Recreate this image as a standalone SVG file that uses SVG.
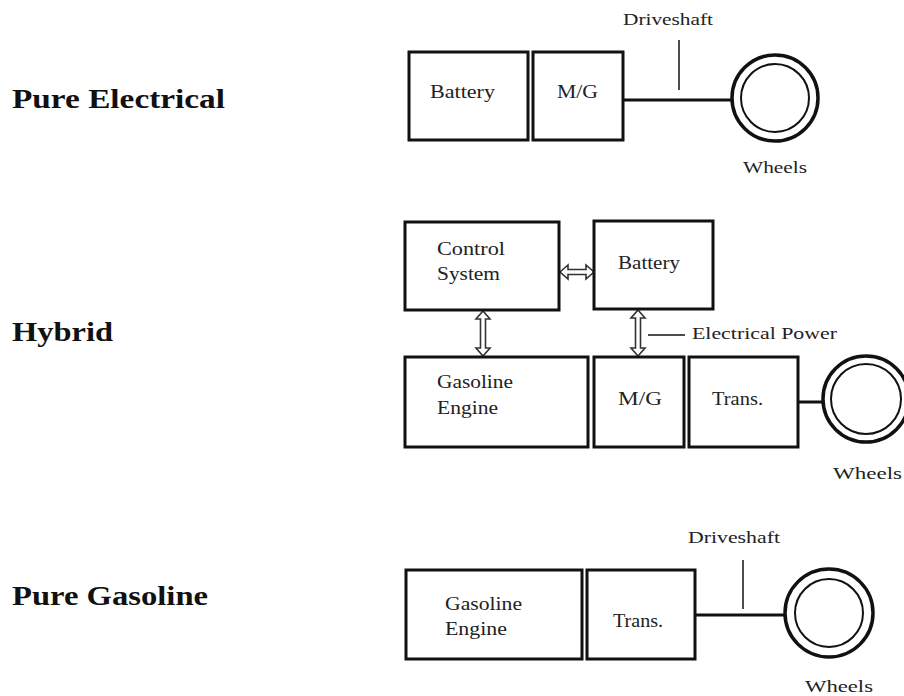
<svg xmlns="http://www.w3.org/2000/svg" width="904" height="696" viewBox="0 0 904 696">
<style>
.box{fill:#fff;stroke:#111;stroke-width:3}
.t{font-family:"Liberation Serif","Times New Roman",serif;font-size:19px;fill:#222}
.s{font-family:"Liberation Serif","Times New Roman",serif;font-size:17px;fill:#222}
.h{font-family:"Liberation Serif","Times New Roman",serif;font-size:28px;font-weight:bold;fill:#111}
.shaft{stroke:#111;stroke-width:3;fill:none}
.thin{stroke:#111;stroke-width:1.5;fill:none}
.wo{fill:#fff;stroke:#111;stroke-width:3.5}
.wi{fill:#fff;stroke:#111;stroke-width:2}
.arr{fill:#fff;stroke:#333;stroke-width:1.6;stroke-linejoin:miter}
</style>
<rect width="904" height="696" fill="#fff"/>

<g id="labels">
<text class="h" x="12" y="108" textLength="213" lengthAdjust="spacingAndGlyphs">Pure Electrical</text>
<text class="h" x="12" y="341" textLength="101" lengthAdjust="spacingAndGlyphs">Hybrid</text>
<text class="h" x="12" y="605" textLength="196" lengthAdjust="spacingAndGlyphs">Pure Gasoline</text>
</g>

<g id="connectors">
<!-- Pure Electrical -->
<line class="shaft" x1="623" y1="100" x2="733" y2="100"/>
<line class="thin" x1="679" y1="40" x2="679" y2="90"/>
<!-- Hybrid -->
<line class="shaft" x1="798" y1="402" x2="824" y2="402"/>
<polygon class="arr" points="560,272 568,265 568,269.5 586,269.5 586,265 594,272 586,279 586,274.5 568,274.5 568,279"/>
<polygon class="arr" points="483,311 490,319 485.5,319 485.5,348 490,348 483,356 476,348 480.5,348 480.5,319 476,319"/>
<polygon class="arr" points="638,310 645,318 640.5,318 640.5,348 645,348 638,356 631,348 635.5,348 635.5,318 631,318"/>
<line class="thin" x1="648" y1="335" x2="685" y2="335"/>
<!-- Pure Gasoline -->
<line class="shaft" x1="695" y1="615" x2="785" y2="615"/>
<line class="thin" x1="743" y1="560" x2="743" y2="609"/>
</g>

<g id="pe-battery"><rect class="box" x="409" y="52" width="119" height="88"/><text class="t" x="430" y="98" textLength="65" lengthAdjust="spacingAndGlyphs">Battery</text></g>
<g id="pe-mg"><rect class="box" x="533" y="52" width="90" height="88"/><text class="t" x="557" y="98" textLength="41" lengthAdjust="spacingAndGlyphs">M/G</text></g>
<g id="pe-wheels"><circle class="wo" cx="775" cy="98" r="43"/><circle class="wi" cx="775" cy="98" r="34"/><text class="s" x="743" y="173" textLength="64" lengthAdjust="spacingAndGlyphs">Wheels</text></g>
<g id="pe-driveshaft"><text class="s" x="623" y="25" textLength="90" lengthAdjust="spacingAndGlyphs">Driveshaft</text></g>

<g id="hy-control"><rect class="box" x="405" y="222" width="154" height="88"/><text class="t" x="437" y="255" textLength="68" lengthAdjust="spacingAndGlyphs">Control</text><text class="t" x="437" y="280" textLength="63" lengthAdjust="spacingAndGlyphs">System</text></g>
<g id="hy-battery"><rect class="box" x="594" y="221" width="119" height="88"/><text class="t" x="618" y="269" textLength="62" lengthAdjust="spacingAndGlyphs">Battery</text></g>
<g id="hy-engine"><rect class="box" x="405" y="357" width="183" height="90"/><text class="t" x="437" y="388" textLength="76" lengthAdjust="spacingAndGlyphs">Gasoline</text><text class="t" x="437" y="414" textLength="61" lengthAdjust="spacingAndGlyphs">Engine</text></g>
<g id="hy-mg"><rect class="box" x="594" y="357" width="90" height="90"/><text class="t" x="618" y="405" textLength="44" lengthAdjust="spacingAndGlyphs">M/G</text></g>
<g id="hy-trans"><rect class="box" x="689" y="357" width="109" height="90"/><text class="t" x="712" y="405" textLength="51" lengthAdjust="spacingAndGlyphs">Trans.</text></g>
<g id="hy-wheels"><circle class="wo" cx="866" cy="399" r="43"/><circle class="wi" cx="866" cy="399" r="35"/><text class="s" x="833" y="479" textLength="69" lengthAdjust="spacingAndGlyphs">Wheels</text></g>
<g id="hy-power"><text class="s" x="692" y="339" textLength="145" lengthAdjust="spacingAndGlyphs">Electrical Power</text></g>

<g id="pg-engine"><rect class="box" x="406" y="570" width="176" height="89"/><text class="t" x="445" y="610" textLength="77" lengthAdjust="spacingAndGlyphs">Gasoline</text><text class="t" x="445" y="635" textLength="62" lengthAdjust="spacingAndGlyphs">Engine</text></g>
<g id="pg-trans"><rect class="box" x="587" y="570" width="108" height="89"/><text class="t" x="613" y="627" textLength="50" lengthAdjust="spacingAndGlyphs">Trans.</text></g>
<g id="pg-wheels"><circle class="wo" cx="829" cy="613" r="44"/><circle class="wi" cx="829" cy="613" r="34"/><text class="s" x="805" y="692" textLength="68" lengthAdjust="spacingAndGlyphs">Wheels</text></g>
<g id="pg-driveshaft"><text class="s" x="688" y="543" textLength="92" lengthAdjust="spacingAndGlyphs">Driveshaft</text></g>
</svg>
